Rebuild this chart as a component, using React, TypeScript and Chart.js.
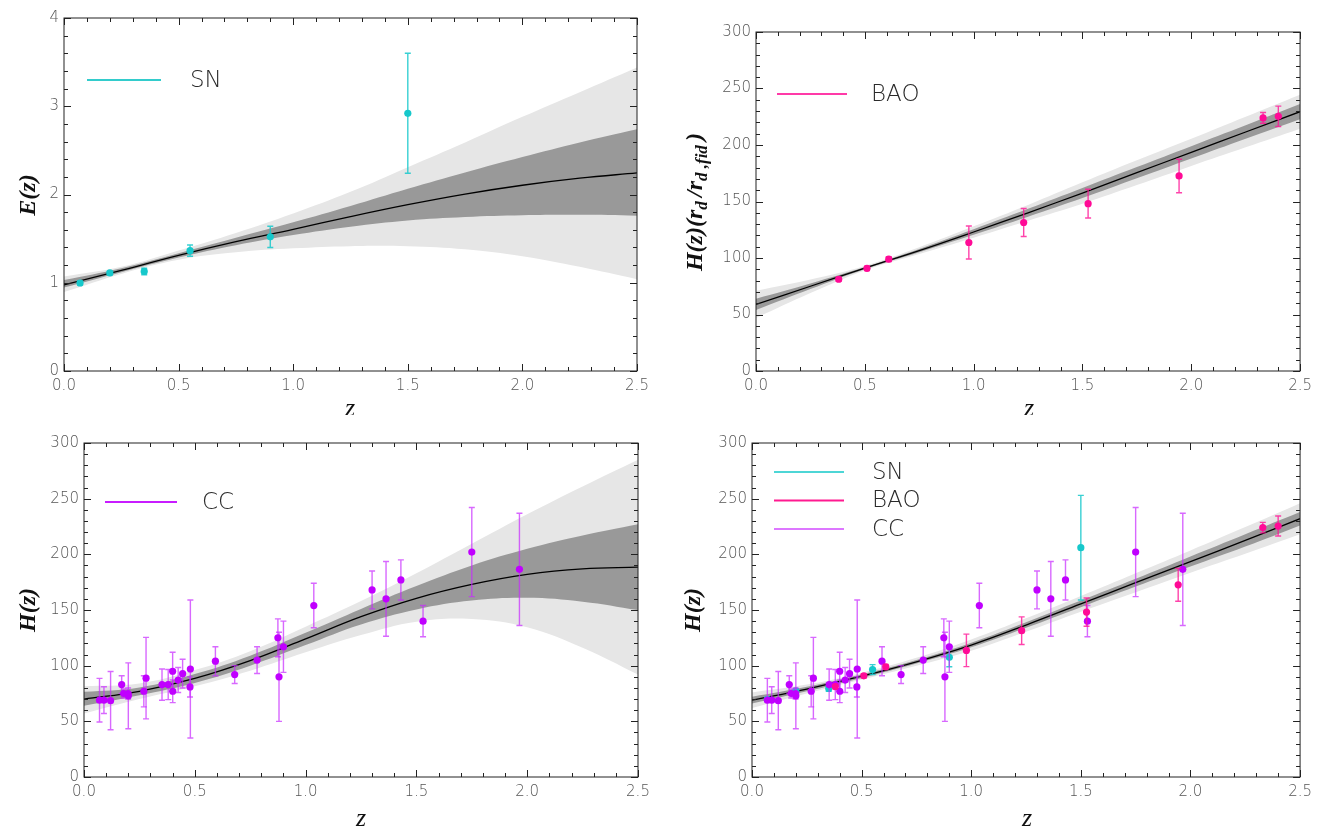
import React, { useEffect, useRef } from 'react';
import { Chart, registerables } from 'chart.js';
Chart.register(...registerables);

// ---------- shared grid of redshifts for the reconstructed curves ----------
const zGrid = [0, 0.25, 0.5, 0.75, 1.0, 1.25, 1.5, 1.75, 2.0, 2.25, 2.5];

// ---------- Panel 1 : E(z) from SN ----------
const p1Mean = [0.975, 1.14, 1.31, 1.465, 1.605, 1.75, 1.885, 2.005, 2.105, 2.185, 2.245];
const p1U1 = [1.03, 1.165, 1.335, 1.51, 1.685, 1.87, 2.065, 2.25, 2.425, 2.59, 2.74];
const p1L1 = [0.945, 1.12, 1.285, 1.425, 1.54, 1.635, 1.705, 1.745, 1.765, 1.77, 1.76];
const p1U2 = [1.07, 1.18, 1.365, 1.565, 1.785, 2.03, 2.31, 2.59, 2.88, 3.16, 3.44];
const p1L2 = [0.895, 1.1, 1.26, 1.345, 1.39, 1.415, 1.415, 1.38, 1.3, 1.18, 1.04];

const snZ = [0.07, 0.2, 0.35, 0.55, 0.9, 1.5];
const snE = [0.997, 1.111, 1.128, 1.364, 1.52, 2.92];
const snEErr = [0.023, 0.02, 0.037, 0.063, 0.12, 0.68];

// ---------- Panel 2 : BAO ----------
const p2Mean = [59, 75, 91, 106.5, 123, 140, 157.5, 175.5, 193.5, 211.5, 229.5];
const p2U1 = [64, 77.5, 92, 108, 125.5, 143.5, 162, 180.5, 199, 217.5, 236.2];
const p2L1 = [54, 72.5, 90, 105, 120.5, 136.5, 153, 170.5, 188, 205.5, 222.8];
const p2U2 = [71, 81, 93, 109.5, 128, 147, 167, 186.5, 205.5, 225, 244.5];
const p2L2 = [47, 69, 89, 103.5, 118, 133, 148, 164.5, 181.5, 198, 214.5];

const baoZ = [0.38, 0.51, 0.61, 0.978, 1.23, 1.526, 1.944, 2.33, 2.4];
const baoH = [81.2, 90.9, 99.0, 113.7, 131.4, 148.1, 172.6, 224.0, 225.4];
const baoErr = [1.9, 1.9, 2.1, 14.6, 12.4, 12.7, 14.8, 4.7, 9.0];

// ---------- Panel 3 : CC ----------
const p3Mean = [70, 77, 88.5, 104.5, 124, 144, 160.5, 173, 182, 187, 188.5];
const p3U1 = [76.5, 80.5, 92.5, 109, 129.5, 151, 171.5, 190, 205, 217, 227];
const p3L1 = [64, 73.5, 84.5, 100, 118.5, 137, 150.5, 158.5, 161, 157.5, 150];
const p3U2 = [81.5, 84, 96, 113, 135, 158, 183, 209.5, 236, 261, 285];
const p3L2 = [57, 70, 81.5, 95.5, 112, 127.5, 139.5, 142, 134.5, 116, 92];

const ccZ = [0.07, 0.09, 0.12, 0.17, 0.179, 0.199, 0.2, 0.27, 0.28, 0.352, 0.38, 0.4, 0.4004, 0.425, 0.445, 0.4783, 0.48, 0.593, 0.68, 0.781, 0.875, 0.88, 0.9, 1.037, 1.3, 1.363, 1.43, 1.53, 1.75, 1.965];
const ccH = [69, 69, 68.6, 83, 75, 75, 72.9, 77, 88.8, 83, 83, 95, 77, 87.1, 92.8, 80.9, 97, 104, 92, 105, 125, 90, 117, 154, 168, 160, 177, 140, 202, 186.5];
const ccErr = [19.6, 12, 26.2, 8, 4, 5, 29.6, 14, 36.6, 14, 13.5, 17, 10.2, 11.2, 12.9, 9, 62, 13, 8, 12, 17, 40, 23, 20, 17, 33.6, 18, 14, 40, 50.4];

// ---------- Panel 4 : joint ----------
const p4Mean = [69, 79, 90.5, 103.5, 118.5, 136.5, 155.5, 174.5, 193.5, 212.5, 232];
const p4U1 = [72, 81, 92, 105, 120.5, 139, 158.5, 178, 198, 218, 238];
const p4L1 = [66, 77, 89, 102, 116.5, 134, 152.5, 171, 189, 207, 226];
const p4U2 = [76, 83, 93.5, 107, 123.5, 142.5, 162.5, 183, 203.5, 224.5, 246];
const p4L2 = [62, 75, 87.5, 100, 113.5, 130.5, 148.5, 166, 183.5, 200.5, 218];

const snH = [69.8, 77.4, 79.5, 96.5, 107.5, 206];
const snHErr = [1.6, 1.4, 2.6, 4.4, 8.5, 47];

const xTickLabels = ['0.0', '0.5', '1.0', '1.5', '2.0', '2.5'];

// ---------- colours ----------
const SN_C = '#16c8cb';
const SN_E = 'rgba(22,200,203,0.85)';
const BAO_C = '#ff0a96';
const BAO_E = 'rgba(255,20,150,0.8)';
const CC_C = '#c000ff';
const CC_E = 'rgba(200,40,255,0.7)';
const LIGHT = '#e6e6e6';
const DARK = '#999999';

const TICK_FONT = { family: 'DejaVu Sans', size: 15, weight: '200' as any };
const TITLE_FONT = 'Liberation Serif, DejaVu Serif, serif';

type Seg = { t: string; size: number; sub?: boolean };
type Series = { label: string; color: string; err: string; zs: number[]; ys: number[]; es: number[]; order: number };
type Spec = {
  id: string;
  box: { left: number; top: number; w: number; h: number };
  plot: { l: number; t: number; r: number; b: number };
  yMax: number; yStep: number; yMinor: number;
  band: { mean: number[]; u1: number[]; l1: number[]; u2: number[]; l2: number[] };
  series: Series[];
  legend: { label: string; color: string }[];
  leg: { x1: number; x2: number; tx: number; y0: number; dy: number };
  yTitle: Seg[]; yTitlePos: [number, number];
  xTitlePos: [number, number];
};

const curve = (ys: number[]) => zGrid.map((z, i) => ({ x: z, y: ys[i] }));

function makeDecor(spec: Spec) {
  const ox = spec.box.left, oy = spec.box.top;
  return {
    id: 'decor' + spec.id,
    beforeDatasetDraw(chart: any, args: any) {
      const ds = chart.data.datasets[args.index];
      if (!ds.errorBars) return;
      const { ctx } = chart;
      const x = chart.scales.x, y = chart.scales.y;
      ctx.save();
      ctx.strokeStyle = ds.errColor;
      ctx.lineWidth = 1.4;
      for (const p of ds.data) {
        const px = x.getPixelForValue(p.x);
        const y1 = y.getPixelForValue(p.y - p.e);
        const y2 = y.getPixelForValue(p.y + p.e);
        ctx.beginPath();
        ctx.moveTo(px, y1); ctx.lineTo(px, y2);
        ctx.moveTo(px - 3, y1); ctx.lineTo(px + 3, y1);
        ctx.moveTo(px - 3, y2); ctx.lineTo(px + 3, y2);
        ctx.stroke();
      }
      ctx.restore();
    },
    afterDatasetsDraw(chart: any) {
      const { ctx, chartArea: a } = chart;
      const x = chart.scales.x, y = chart.scales.y;
      ctx.save();
      ctx.strokeStyle = '#222';
      ctx.lineWidth = 1;
      ctx.strokeRect(a.left, a.top, a.right - a.left, a.bottom - a.top);
      ctx.beginPath();
      for (let i = 0; i <= 25; i++) {
        const len = i % 5 === 0 ? 7 : 4;
        const px = Math.round(x.getPixelForValue(i / 10)) + 0.5;
        ctx.moveTo(px, a.bottom); ctx.lineTo(px, a.bottom - len);
        ctx.moveTo(px, a.top); ctx.lineTo(px, a.top + len);
      }
      const n = Math.round(spec.yMax / spec.yMinor);
      const per = Math.round(spec.yStep / spec.yMinor);
      for (let i = 0; i <= n; i++) {
        const len = i % per === 0 ? 7 : 4;
        const py = Math.round(y.getPixelForValue(i * spec.yMinor)) + 0.5;
        ctx.moveTo(a.left, py); ctx.lineTo(a.left + len, py);
        ctx.moveTo(a.right, py); ctx.lineTo(a.right - len, py);
      }
      ctx.stroke();
      ctx.restore();
    },
    afterDraw(chart: any) {
      const { ctx, chartArea: a } = chart;
      ctx.save();
      // legend
      const L = spec.leg;
      spec.legend.forEach((it, i) => {
        const ly = a.top + L.y0 + i * L.dy;
        ctx.strokeStyle = it.color;
        ctx.lineWidth = 2;
        ctx.beginPath();
        ctx.moveTo(a.left + L.x1, ly); ctx.lineTo(a.left + L.x2, ly);
        ctx.stroke();
        ctx.fillStyle = '#2a2a2a';
        ctx.font = '200 23px "DejaVu Sans"';
        ctx.textBaseline = 'middle';
        ctx.textAlign = 'left';
        ctx.fillText(it.label, a.left + L.tx, ly + 1);
      });
      // x title
      ctx.fillStyle = '#111';
      ctx.font = `italic 26px ${TITLE_FONT}`;
      ctx.textAlign = 'center';
      ctx.textBaseline = 'alphabetic';
      ctx.fillText('z', spec.xTitlePos[0] - ox, spec.xTitlePos[1] - oy + 6);
      // y title (rotated, with subscripts)
      ctx.translate(spec.yTitlePos[0] - ox, spec.yTitlePos[1] - oy);
      ctx.rotate(-Math.PI / 2);
      ctx.textAlign = 'left';
      let total = 0;
      for (const s of spec.yTitle) {
        ctx.font = `italic bold ${s.size}px ${TITLE_FONT}`;
        total += ctx.measureText(s.t).width;
      }
      let cx = -total / 2;
      for (const s of spec.yTitle) {
        ctx.font = `italic bold ${s.size}px ${TITLE_FONT}`;
        ctx.fillText(s.t, cx, s.sub ? 13 : 8);
        cx += ctx.measureText(s.t).width;
      }
      ctx.restore();
    },
  };
}

function buildConfig(spec: Spec): any {
  const b = spec.band;
  const bandDs = (ys: number[], color: string, fill: any, order: number) => ({
    data: curve(ys),
    borderColor: 'rgba(0,0,0,0)',
    borderWidth: 1,
    backgroundColor: color,
    pointRadius: 0,
    tension: 0.4,
    fill,
    order,
  });
  const datasets: any[] = [
    bandDs(b.u2, LIGHT, '+1', 20),
    bandDs(b.l2, LIGHT, false, 20),
    bandDs(b.u1, DARK, '+1', 10),
    bandDs(b.l1, DARK, false, 10),
    {
      data: curve(b.mean),
      borderColor: '#000',
      borderWidth: 1.3,
      pointRadius: 0,
      tension: 0.4,
      fill: false,
      order: 5,
    },
  ];
  for (const s of spec.series) {
    datasets.push({
      label: s.label,
      data: s.zs.map((z, i) => ({ x: z, y: s.ys[i], e: s.es[i] })),
      showLine: false,
      pointRadius: 3.6,
      pointBorderWidth: 0,
      pointBackgroundColor: s.color,
      pointBorderColor: s.color,
      errorBars: true,
      errColor: s.err,
      order: s.order,
    });
  }
  const { box, plot } = spec;
  return {
    type: 'line',
    data: { datasets },
    options: {
      animation: false,
      responsive: false,
      maintainAspectRatio: false,
      events: [],
      layout: {
        padding: { top: plot.t - box.top, right: box.left + box.w - plot.r, left: 0, bottom: 0 },
      },
      plugins: { legend: { display: false }, tooltip: { enabled: false } },
      scales: {
        x: {
          type: 'linear',
          min: 0,
          max: 2.5,
          grid: { display: false, drawTicks: false },
          border: { display: false },
          ticks: {
            stepSize: 0.5,
            autoSkip: false,
            maxRotation: 0,
            padding: 6,
            color: '#555',
            font: TICK_FONT,
            callback: (v: any) => {
              const k = Math.round(Number(v) * 2);
              return xTickLabels[k] ?? '';
            },
          },
          afterFit: (s: any) => { s.height = box.top + box.h - plot.b; },
        },
        y: {
          type: 'linear',
          min: 0,
          max: spec.yMax,
          grid: { display: false, drawTicks: false },
          border: { display: false },
          ticks: {
            stepSize: spec.yStep,
            padding: 5,
            color: '#555',
            font: TICK_FONT,
          },
          afterFit: (s: any) => { s.width = plot.l - box.left; },
        },
      },
    },
    plugins: [makeDecor(spec)],
  };
}

const specs: Spec[] = [
  {
    id: 'sn',
    box: { left: 0, top: 0, w: 660, h: 415 },
    plot: { l: 64, t: 18, r: 637, b: 371 },
    yMax: 4, yStep: 1, yMinor: 0.2,
    band: { mean: p1Mean, u1: p1U1, l1: p1L1, u2: p1U2, l2: p1L2 },
    series: [{ label: 'SN', color: SN_C, err: SN_E, zs: snZ, ys: snE, es: snEErr, order: 0 }],
    legend: [{ label: 'SN', color: '#33cccc' }],
    leg: { x1: 23, x2: 97, tx: 126, y0: 62, dy: 0 },
    yTitle: [{ t: 'E(z)', size: 24 }],
    yTitlePos: [27, 195],
    xTitlePos: [350, 410],
  },
  {
    id: 'bao',
    box: { left: 660, top: 0, w: 658, h: 415 },
    plot: { l: 756, t: 32, r: 1303, b: 371 },
    yMax: 300, yStep: 50, yMinor: 10,
    band: { mean: p2Mean, u1: p2U1, l1: p2L1, u2: p2U2, l2: p2L2 },
    series: [{ label: 'BAO', color: BAO_C, err: BAO_E, zs: baoZ, ys: baoH, es: baoErr, order: 0 }],
    legend: [{ label: 'BAO', color: '#ff3aa8' }],
    leg: { x1: 21, x2: 91, tx: 115, y0: 62, dy: 0 },
    yTitle: [
      { t: 'H(z)(r', size: 24 },
      { t: 'd ', size: 17, sub: true },
      { t: '/r', size: 24 },
      { t: 'd ,fid ', size: 17, sub: true },
      { t: ')', size: 24 },
    ],
    yTitlePos: [694, 202],
    xTitlePos: [1029, 410],
  },
  {
    id: 'cc',
    box: { left: 0, top: 415, w: 660, h: 416 },
    plot: { l: 84, t: 443, r: 638, b: 777 },
    yMax: 300, yStep: 50, yMinor: 10,
    band: { mean: p3Mean, u1: p3U1, l1: p3L1, u2: p3U2, l2: p3L2 },
    series: [{ label: 'CC', color: CC_C, err: CC_E, zs: ccZ, ys: ccH, es: ccErr, order: 0 }],
    legend: [{ label: 'CC', color: '#c81cff' }],
    leg: { x1: 21, x2: 93, tx: 118, y0: 59, dy: 0 },
    yTitle: [{ t: 'H(z)', size: 24 }],
    yTitlePos: [27, 610],
    xTitlePos: [361, 820],
  },
  {
    id: 'all',
    box: { left: 660, top: 415, w: 658, h: 416 },
    plot: { l: 752, t: 443, r: 1303, b: 777 },
    yMax: 300, yStep: 50, yMinor: 10,
    band: { mean: p4Mean, u1: p4U1, l1: p4L1, u2: p4U2, l2: p4L2 },
    series: [
      { label: 'SN', color: SN_C, err: SN_E, zs: snZ, ys: snH, es: snHErr, order: 2 },
      { label: 'CC', color: CC_C, err: CC_E, zs: ccZ, ys: ccH, es: ccErr, order: 1 },
      { label: 'BAO', color: BAO_C, err: BAO_E, zs: baoZ, ys: baoH, es: baoErr, order: 0 },
    ],
    legend: [
      { label: 'SN', color: '#4dd6d6' },
      { label: 'BAO', color: '#ff1a90' },
      { label: 'CC', color: '#dd77ff' },
    ],
    leg: { x1: 22, x2: 92, tx: 120, y0: 29, dy: 28.5 },
    yTitle: [{ t: 'H(z)', size: 24 }],
    yTitlePos: [692, 610],
    xTitlePos: [1027, 820],
  },
];

function Panel({ spec }: { spec: Spec }) {
  const ref = useRef<HTMLCanvasElement | null>(null);
  useEffect(() => {
    if (!ref.current) return;
    const chart = new Chart(ref.current, buildConfig(spec));
    return () => chart.destroy();
  }, [spec]);
  const { box } = spec;
  return (
    <canvas
      ref={ref}
      width={box.w}
      height={box.h}
      style={{ position: 'absolute', left: box.left, top: box.top, width: box.w, height: box.h }}
    />
  );
}

export default function App() {
  return (
    <div style={{ position: 'fixed', left: 0, top: 0, width: 1318, height: 831, background: '#fff', overflow: 'hidden' }}>
      {specs.map((s) => (
        <Panel key={s.id} spec={s} />
      ))}
    </div>
  );
}
